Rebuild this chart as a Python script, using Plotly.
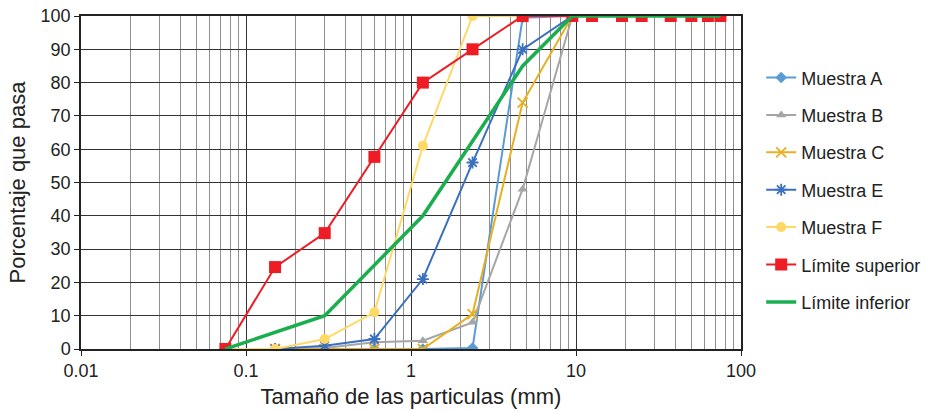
import plotly.graph_objects as go

sizes = [0.075, 0.15, 0.3, 0.6, 1.18, 2.36, 4.75, 9.5, 12.5, 19, 25, 37.5, 50, 63, 75]
muestra_a = [0, 0, 0, 0, 0, 0.3, 99.5, 100, 100, 100, 100, 100, 100, 100, 100]
muestra_b = [0, 0, 0.3, 2, 2.5, 8, 48, 100, 100, 100, 100, 100, 100, 100, 100]
muestra_c = [0, 0, 0, 0, 0, 10.5, 74, 100, 100, 100, 100, 100, 100, 100, 100]
muestra_e = [0, 0, 1, 3, 21, 56, 90, 100, 100, 100, 100, 100, 100, 100, 100]
muestra_f = [0, 0, 3, 11, 61, 100, 100, 100, 100, 100, 100, 100, 100, 100, 100]
lim_sup = [0, 24.6, 34.8, 57.7, 80, 90, 100, 100, 100, 100, 100, 100, 100, 100, 100]
inf_sizes = [0.075, 0.3, 1.18, 4.75, 9.5, 12.5, 19, 25, 37.5, 50, 63, 75]
lim_inf = [0, 10, 40, 85, 100, 100, 100, 100, 100, 100, 100, 100]

x_ticks = [0.01, 0.1, 1, 10, 100]
x_tick_labels = ["0.01", "0.1", "1", "10", "100"]

series = [
    ("Muestra A", muestra_a, "#5B9BD5", dict(symbol="diamond", size=9, color="#5B9BD5"), 2),
    ("Muestra B", muestra_b, "#A5A5A5", dict(symbol="triangle-up", size=9, color="#A5A5A5"), 2),
    ("Muestra C", muestra_c, "#E8B020", dict(symbol="x-thin-open", size=10, color="#E8B020",
                                            line=dict(width=1.8, color="#E8B020")), 2),
    ("Muestra E", muestra_e, "#3B6FBF", dict(symbol="asterisk-open", size=10, color="#3B6FBF",
                                            line=dict(width=1.8, color="#3B6FBF")), 2),
    ("Muestra F", muestra_f, "#FFD966", dict(symbol="circle", size=10, color="#FFD966"), 2),
    ("Límite superior", lim_sup, "#EE1C25", dict(symbol="square", size=12, color="#EE1C25"), 2),
]

fig = go.Figure()
for i, (name, vals, col, mk, w) in enumerate(series):
    fig.add_trace(go.Scatter(x=sizes, y=vals, name=name, mode="lines+markers",
                             line=dict(color=col, width=w), marker=mk,
                             legendgroup=f"g{i}"))
fig.add_trace(go.Scatter(x=inf_sizes, y=lim_inf, name="Límite inferior", mode="lines",
                         line=dict(color="#1AAE4E", width=3.5), legendgroup="g7"))

fig.update_layout(
    width=929, height=411,
    margin=dict(l=81, r=188, t=16, b=62, autoexpand=False),
    paper_bgcolor="white", plot_bgcolor="white",
    font=dict(family="Liberation Sans, Arial, sans-serif", size=18, color="#222"),
    legend=dict(x=1.0306, xanchor="left", y=0.87, yanchor="top",
                tracegroupgap=11, font=dict(size=18), itemwidth=30),
    xaxis=dict(type="log", range=[-2, 2], tickvals=x_ticks, ticktext=x_tick_labels,
               automargin=False, ticklabeloverflow="allow",
               showgrid=True, gridcolor="#333", gridwidth=1.3,
               minor=dict(dtick="D1", showgrid=True, gridcolor="#909090", gridwidth=1),
               showline=True, linecolor="#222", linewidth=1.5, mirror=True,
               ticks="outside", ticklen=5, tickcolor="#222",
               title=dict(text="Tamaño de las particulas (mm)", standoff=8)),
    yaxis=dict(range=[0, 100], dtick=10, showgrid=True, gridcolor="#333", gridwidth=1.3,
               automargin=False, ticklabeloverflow="allow",
               showline=True, linecolor="#222", linewidth=1.5, mirror=True,
               ticks="outside", ticklen=5, tickcolor="#222", zeroline=False,
               title=dict(text="Porcentaje que pasa", standoff=9)),
)

# remove the default page margin so the figure fills the window exactly
fig.write_html("out.html", config={"displayModeBar": False},
               post_script="document.body.style.margin='0';")
